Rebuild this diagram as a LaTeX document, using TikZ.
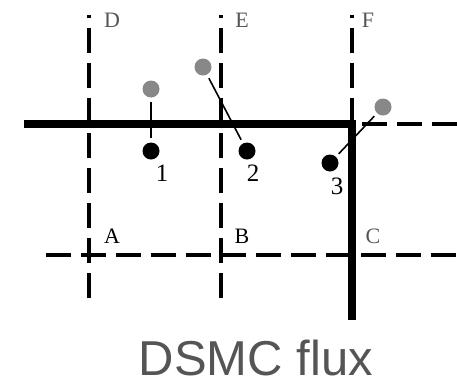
\documentclass[tikz,border=0pt]{standalone}
\usepackage{fontspec}
\setmainfont{Liberation Serif}
\newfontfamily\titlefont{Liberation Sans}
\usepackage{xcolor}
\usetikzlibrary{positioning}
\definecolor{labelgray}{RGB}{85,85,85}
\definecolor{dotgray}{RGB}{136,136,136}

\begin{document}
\begin{tikzpicture}[
    x=1pt, y=-1pt,
    cell/.style={line width=4pt, dash pattern=on 25pt off 10pt},
    wall/.style={line width=8pt},
    track/.style={line width=1.6pt, shorten <=4pt, shorten >=4pt},
    oldpos/.style={circle, fill=dotgray, inner sep=0pt, minimum size=17pt},
    newpos/.style={circle, fill=black, inner sep=0pt, minimum size=17pt},
    lbl/.style={anchor=base, inner sep=0pt, font=\fontsize{22}{22}\selectfont},
    num/.style={anchor=base, inner sep=0pt, font=\fontsize{25}{25}\selectfont}
  ]
  \useasboundingbox (0,0) rectangle (458,384);

  % cell faces
  \draw[cell, dash phase=22pt] (89,15) -- (89,298);
  \draw[cell, dash phase=22pt] (221,15) -- (221,298);
  \draw[cell, dash phase=22pt] (352,15) -- (352,124);
  \draw[cell] (46,255) -- (458,255);
  \draw[cell] (362,124) -- (458,124);

  % solid boundary
  \draw[wall] (24,124) -- (356,124);
  \draw[wall] (352,120) -- (352,320);

  % cell labels
  \node[lbl, text=labelgray] (labD) at (112,27) {D};
  \node[lbl, text=labelgray] (labE) at (242,27) {E};
  \node[lbl, text=labelgray] (labF) at (368,27) {F};
  \node[lbl] (labA) at (112,243) {A};
  \node[lbl] (labB) at (242,243) {B};
  \node[lbl, text=labelgray] (labC) at (373,243) {C};

  % particles
  \node[oldpos] (old1) at (151,89) {};
  \node[oldpos] (old2) at (203,67) {};
  \node[oldpos] (old3) at (383,107) {};
  \node[newpos] (new1) at (151,151) {};
  \node[newpos] (new2) at (247,151) {};
  \node[newpos] (new3) at (330,163) {};

  \node[num] (num1) at (162,181) {1};
  \node[num] (num2) at (253,181) {2};
  \node[num] (num3) at (337,194) {3};

  \draw[track] (old1) -- (new1);
  \draw[track] (old2) -- (new2);
  \draw[track] (old3) -- (new3);

  \node[anchor=base, inner sep=0pt, text=labelgray,
        font=\titlefont\fontsize{49}{49}\selectfont] (title) at (256,375) {DSMC flux};
\end{tikzpicture}
\end{document}
